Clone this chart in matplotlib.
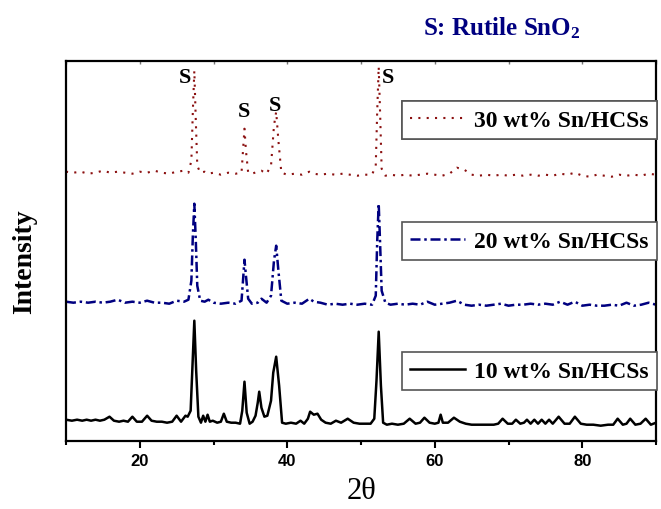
import matplotlib
matplotlib.use('Agg')
import matplotlib.pyplot as plt
import numpy as np

plt.rcParams['mathtext.fontset'] = 'custom'
plt.rcParams['mathtext.rm'] = 'Liberation Serif:bold'
plt.rcParams['mathtext.it'] = 'Liberation Serif:bold'
plt.rcParams['mathtext.bf'] = 'Liberation Serif:bold'

# --- Dados (2theta, intensidade em unidades arbitrárias) ---
tt_10 = [10, 10.8, 11.5, 12.2, 12.8, 13.4, 14.0, 14.6, 15.2, 15.9, 16.5, 17.2, 17.8, 18.4,
         19.0, 19.6, 20.3, 21.0, 21.6, 22.3, 23.0, 23.7, 24.4, 25.0, 25.6, 26.2, 26.5, 26.9,
         27.15, 27.4, 27.65, 27.95, 28.3, 28.6, 28.9, 29.2, 29.5, 29.9, 30.5, 31.0, 31.4, 31.8,
         32.4, 33.0, 33.6, 33.9, 34.2, 34.5, 34.9, 35.3, 35.7, 36.0, 36.2, 36.5, 36.9, 37.3,
         37.8, 38.1, 38.5, 38.9, 39.3, 39.8, 40.5, 41.2, 41.8, 42.3, 42.8, 43.1, 43.6, 44.1,
         44.6, 45.2, 45.9, 46.6, 47.3, 48.2, 49.0, 49.8, 50.6, 51.3, 51.8, 52.1, 52.4, 52.7,
         53.0, 53.5, 54.2, 55.0, 55.8, 56.6, 57.4, 58.0, 58.6, 59.3, 60.0, 60.5, 60.8, 61.1,
         61.8, 62.6, 63.4, 64.2, 65.0, 66.0, 67.0, 68.0, 68.6, 69.2, 69.9, 70.5, 71.0, 71.6,
         72.1, 72.5, 73.0, 73.5, 74.0, 74.5, 75.0, 75.5, 76.0, 76.8, 77.6, 78.3, 79.0, 79.8,
         80.6, 81.5, 82.5, 83.5, 84.2, 84.8, 85.5, 86.0, 86.5, 87.2, 87.9, 88.6, 89.3, 90]
I_10 = [21, 20, 21, 20, 21, 20, 21, 20, 21, 24, 20, 19, 20, 19,
        24, 19, 19, 25, 20, 19, 19, 18, 19, 25, 19, 25, 24, 30,
        75, 120, 70, 24, 18, 25, 19, 26, 19, 20, 18, 19, 27, 19,
        18, 18, 17, 30, 59, 28, 17, 19, 25, 38, 49, 33, 24, 25,
        40, 68, 84, 55, 18, 17, 18, 17, 20, 17, 22, 29, 26, 27,
        21, 18, 17, 20, 18, 22, 18, 17, 17, 17, 22, 60, 109, 55,
        18, 16, 17, 16, 17, 22, 17, 18, 23, 18, 17, 18, 26, 18,
        18, 23, 19, 17, 16, 16, 16, 16, 17, 22, 17, 17, 21, 17,
        18, 21, 17, 21, 17, 21, 17, 21, 17, 24, 17, 17, 24, 17,
        16, 16, 15, 16, 16, 22, 16, 17, 22, 16, 17, 22, 16, 18]

tt_20 = [10, 11, 12, 13, 14, 15, 16, 17, 18, 19, 20, 21, 22, 23, 24, 25, 26, 26.6, 27.0,
         27.2, 27.4, 27.6, 27.8, 28.2, 28.8, 29.3, 30, 31, 32, 33, 33.8, 34.0, 34.2, 34.4,
         34.7, 35.2, 36.0, 36.5, 37.2, 37.8, 38.2, 38.5, 38.8, 39.2, 40, 41, 42, 43, 43.6,
         44.5, 45.5, 46.5, 47.5, 48.5, 49.5, 50.5, 51.5, 52.0, 52.2, 52.4, 52.6, 52.8, 53.3,
         54, 55, 56, 57, 58, 59, 60, 61, 62, 63, 64, 65, 66, 67, 68, 69, 70, 71, 72, 73, 74,
         75, 76, 77, 78, 79, 80, 81, 82, 83, 84, 85, 86, 87, 88, 89, 90]
I_20 = [139, 138, 139, 138, 139, 138, 139, 141, 138, 139, 138, 140, 138, 138, 137, 140, 139, 141, 160,
        205, 237, 200, 155, 140, 139, 141, 138, 137, 138, 137, 140, 160, 181, 165,
        142, 137, 138, 142, 138, 145, 180, 195, 170, 140, 137, 138, 137, 142, 139,
        138, 136, 137, 136, 137, 136, 137, 136, 145, 200, 237, 195, 150, 138,
        136, 137, 136, 137, 136, 139, 136, 137, 138, 140, 136, 135, 136, 135, 136, 137, 135, 136, 136, 137, 136,
        137, 136, 139, 136, 139, 135, 136, 135, 135, 136, 135, 138, 135, 136, 138, 136]

tt_30 = [10, 11, 12, 13, 14, 15, 16, 17, 18, 19, 20, 21, 22, 23, 24, 25, 26, 26.6, 27.0,
         27.2, 27.4, 27.6, 27.8, 28.2, 28.8, 29.3, 30, 31, 32, 33, 33.8, 34.0, 34.2, 34.4,
         34.7, 35.2, 36.0, 36.5, 37.2, 37.8, 38.2, 38.5, 38.8, 39.2, 40, 41, 42, 43, 43.6,
         44.5, 45.5, 46.5, 47.5, 48.5, 49.5, 50.5, 51.5, 52.0, 52.2, 52.4, 52.6, 52.8, 53.3,
         54, 55, 56, 57, 58, 59, 60, 61, 62, 63, 64, 65, 66, 67, 68, 69, 70, 71, 72, 73, 74,
         75, 76, 77, 78, 79, 80, 81, 82, 83, 84, 85, 86, 87, 88, 89, 90]
I_30 = [269, 268, 269, 267, 268, 270, 268, 269, 268, 267, 269, 268, 270, 268, 267, 269, 270, 268, 280,
        330, 370, 320, 275, 268, 269, 267, 268, 266, 268, 267, 268, 290, 312, 290,
        268, 267, 269, 270, 267, 275, 315, 329, 300, 268, 266, 267, 266, 269, 267,
        266, 267, 266, 267, 266, 265, 266, 266, 275, 330, 374, 325, 272, 265,
        266, 265, 266, 265, 266, 267, 266, 265, 267, 273, 271, 266, 265, 266, 265, 266, 265, 266, 265, 266, 265,
        266, 265, 267, 266, 268, 265, 264, 266, 265, 264, 266, 265, 266, 265, 267, 266]

legendas = ['10 wt% Sn/HCSs', '20 wt% Sn/HCSs', '30 wt% Sn/HCSs']

# picos rotulados "S"
s_tt = [26.1, 34.1, 38.3, 53.7]
s_I = [364, 330, 336, 364]

fig = plt.figure(figsize=(6.61, 5.10), dpi=100)
ax = fig.add_axes([66/661, (510-441.7)/510, 590/661, 380/510])

l10, = ax.plot(tt_10, I_10, color='black', linewidth=1.8)
l20, = ax.plot(tt_20, I_20, color='#000080', linewidth=1.8, linestyle=(0, (4, 1.5, 1, 1.5)))
l30, = ax.plot(tt_30, I_30, color='#8b1010', linewidth=1.5, linestyle=(0, (1, 3)))

for x, y in zip(s_tt, s_I):
    ax.text(x, y, 'S', ha='center', va='center', fontsize=16,
            family='Liberation Serif', weight='bold')

ax.set_xlim(10, 90)
ax.set_ylim(0, 380)
ax.set_xticks([20, 40, 60, 80])
ax.set_xticks([10, 30, 50, 70, 90], minor=True)
ax.set_yticks([])
ax.tick_params(axis='x', which='major', direction='out', length=5, width=1.5, labelsize=12)
ax.tick_params(axis='x', which='minor', direction='out', length=3, width=1.5)
for lab in ax.get_xticklabels():
    lab.set_family('Liberation Sans')
    lab.set_weight('bold')
for s in ax.spines.values():
    s.set_linewidth(1.6)

# ticks pequenos para dentro no topo
topo = ax.secondary_xaxis('top')
topo.set_xticks([10, 20, 30, 40, 50, 60, 70, 80, 90])
topo.tick_params(direction='in', length=2, width=1, color='#777777', labeltop=False)
topo.spines['top'].set_visible(False)

ax.set_xlabel('2θ', fontsize=22, family='Liberation Serif', labelpad=6)
fig.text(25/661, 1 - 262/510, 'Intensity', rotation=90, ha='center', va='center',
         fontsize=20, family='Liberation Serif', weight='bold')
fig.text(502/661, 1 - 28/510, 'S: Rutile SnO$_2$', ha='center', va='center',
         fontsize=18, family='Liberation Serif', weight='bold', color='#000080')

# --- Legendas separadas ---
caixas = [(657, 353), (657, 223), (657, 102)]
linhas = [l10, l20, l30]
for linha, nome, (px, py) in zip(linhas, legendas, caixas):
    leg = ax.legend([linha], [nome], loc='upper right',
                    bbox_to_anchor=(px/661, 1 - py/510), bbox_transform=fig.transFigure,
                    borderaxespad=0, fancybox=False, framealpha=1, edgecolor='#555555',
                    handlelength=2.3, handletextpad=0.4, borderpad=0.35,
                    prop={'family': 'Liberation Serif', 'weight': 'bold', 'size': 17})
    leg.get_frame().set_linewidth(1.2)
    ax.add_artist(leg)

plt.savefig('out.png', dpi=100)
